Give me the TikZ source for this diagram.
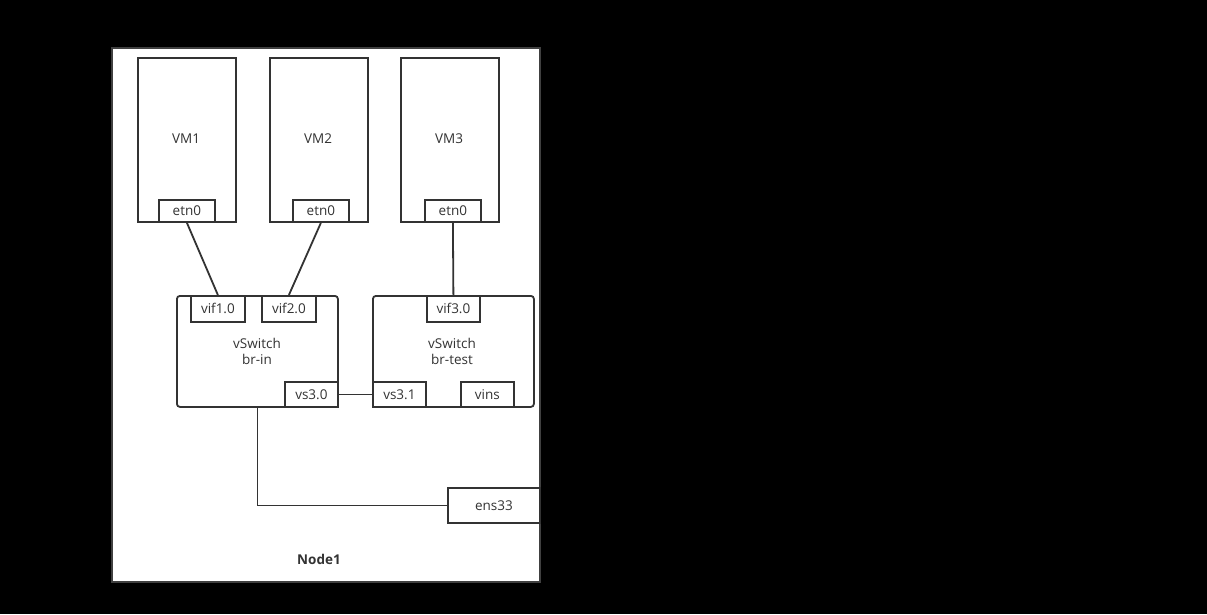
\documentclass[tikz,border=0pt]{standalone}
\usepackage{fontspec}
\setmainfont{Open Sans}
\begin{document}
\begin{tikzpicture}[x=1pt,y=-1pt,
  box/.style={draw=black!80,line width=1.8pt,fill=white,inner sep=0pt,anchor=north west},
  lbl/.style={font=\fontsize{13.5}{16}\selectfont,text=black!80},
  conn/.style={draw=black!80,line width=1.8pt}]
\useasboundingbox[fill=black] (0,0) rectangle (1207,614);
\node[box,draw=black!75,line width=2.2pt,minimum width=428pt,minimum height=534pt] (outer) at (111,47) {};
\node[lbl,font=\fontsize{13.5}{16}\selectfont\bfseries] (n1) at (319,559) {Node1};
% VMs
\foreach \n/\x in {1/137,2/269,3/400}{
  \node[box,minimum width=98pt,minimum height=164pt] (vm\n) at (\x,57) {};
  \node[lbl] (vml\n) at (\x+49,139) {VM\n};
}
\node[box,minimum width=56pt,minimum height=22pt] (e1) at (158,199) {};
\node[lbl] at (e1.center) {etn0};
\node[box,minimum width=56pt,minimum height=22pt] (e2) at (292,199) {};
\node[lbl] at (e2.center) {etn0};
\node[box,minimum width=56pt,minimum height=22pt] (e3) at (424,199) {};
\node[lbl] at (e3.center) {etn0};
% switches
\node[box,rounded corners=3pt,minimum width=161pt,minimum height=111pt] (brin) at (176,295) {};
\node[lbl,align=center] (brinl) at (257,351) {vSwitch\\br-in};
\node[box,rounded corners=3pt,minimum width=161pt,minimum height=111pt] (brtest) at (372,295) {};
\node[lbl,align=center] (brtestl) at (452,351) {vSwitch\\br-test};
\node[box,minimum width=54pt,minimum height=26pt] (v1) at (190,295) {};
\node[lbl] at (v1.center) {vif1.0};
\node[box,minimum width=54pt,minimum height=26pt] (v2) at (261,295) {};
\node[lbl] at (v2.center) {vif2.0};
\node[box,minimum width=53pt,minimum height=26pt] (v3) at (426,295) {};
\node[lbl] at (v3.center) {vif3.0};
\node[box,minimum width=53pt,minimum height=25pt] (s30) at (284,381) {};
\node[lbl] at (s30.center) {vs3.0};
\node[box,minimum width=53pt,minimum height=25pt] (s31) at (372,381) {};
\node[lbl] at (s31.center) {vs3.1};
\node[box,minimum width=53pt,minimum height=25pt] (vins) at (460,381) {};
\node[lbl] at (vins.center) {vins};
\node[box,minimum width=92pt,minimum height=35pt] (ens) at (447,487) {};
\node[lbl] at (ens.center) {ens33};
% connectors
\draw[conn] (e1.south) -- (v1.north);
\draw[conn] (e2.south) -- (v2.north);
\draw[conn] (e3.south) -- (v3.north);
\draw[conn] (s30.east) -- (s31.west);
\draw[conn] (brin.south) |- (ens.west);
\end{tikzpicture}
\end{document}
